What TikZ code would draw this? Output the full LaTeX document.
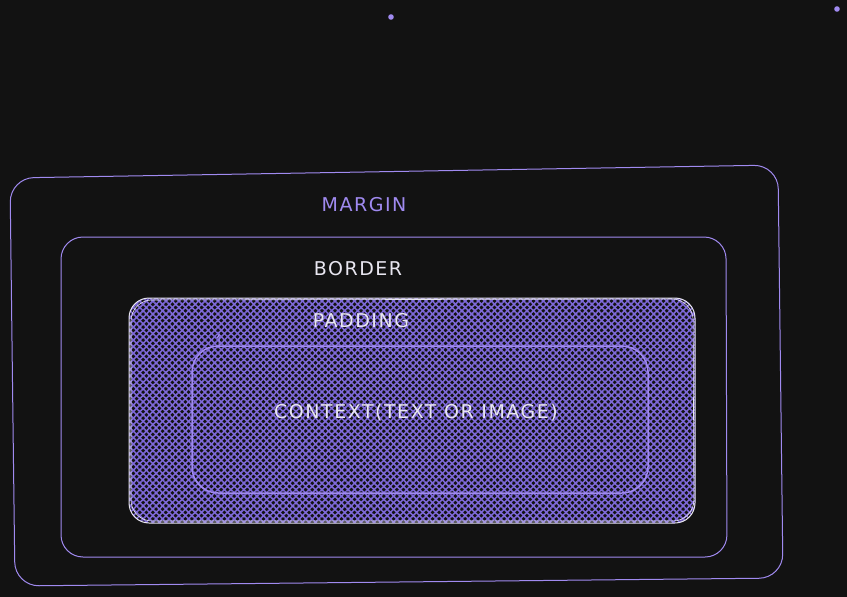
\documentclass[tikz,border=0pt]{standalone}
\usepackage{fontspec}
\setmainfont{DejaVu Sans}[LetterSpace=8]
\usetikzlibrary{patterns.meta}
\definecolor{bg}{HTML}{121212}
\definecolor{vio}{HTML}{A08AF0}
\definecolor{hatch}{HTML}{7E69D8}
\definecolor{ink}{HTML}{E8E6F0}
\tikzset{
  vline/.style={draw=vio, line width=1pt},
  wline/.style={draw=ink, line width=1pt},
  lbl/.style={font=\fontsize{19}{22}\selectfont, inner sep=0pt},
}
\begin{document}
\begin{tikzpicture}[x=1pt,y=-1pt]
\fill[bg] (0,0) rectangle (847,597);
\useasboundingbox (0,0) rectangle (847,597);
% margin box (slightly skewed, hand drawn)
\draw[vline, rounded corners=24] (10,178) -- (778,165) -- (783,578) -- (15,586) -- cycle;
% border box
\draw[vline, rounded corners=22] (61,237) -- (726,237) -- (727,557) -- (61,557) -- cycle;
% padding box with cross hatch
\fill[bg, rounded corners=20] (129,298) rectangle (695,523);
\fill[pattern={Lines[angle=45,distance=4.6pt,line width=1.6pt]}, pattern color=hatch, rounded corners=20] (129,298) rectangle (695,523);
\fill[pattern={Lines[angle=-45,distance=4.6pt,line width=1.6pt]}, pattern color=hatch, rounded corners=20] (129,298) rectangle (695,523);
\draw[wline, rounded corners=20] (129,298) rectangle (695,523);
\draw[draw=ink, line width=0.6pt, rounded corners=21] (131,300) -- (693,299) -- (694,521) -- (131,521) -- cycle;
% content box
\draw[draw=vio, line width=1.5pt, rounded corners=26] (192,346) rectangle (648,493);
% small tick
\coordinate (t1) at (219,346);
\coordinate (t2) at (219,335);
\draw[draw=vio, line width=1pt] (t1) -- (t2) -- ++(-2,3);
% labels
\node[lbl, text=vio] (margin) at (364,205) {MARGIN};
\node[lbl, text=ink] (border) at (358,269) {BORDER};
\node[lbl, text=ink] (padding) at (361,321) {PADDING};
\node[lbl, text=ink] (content) at (416,413) {CONTEXT(TEXT OR IMAGE)};
% dots
\fill[vio] (391,17) circle (2.8);
\fill[vio] (837,9) circle (2.8);
\end{tikzpicture}
\end{document}
